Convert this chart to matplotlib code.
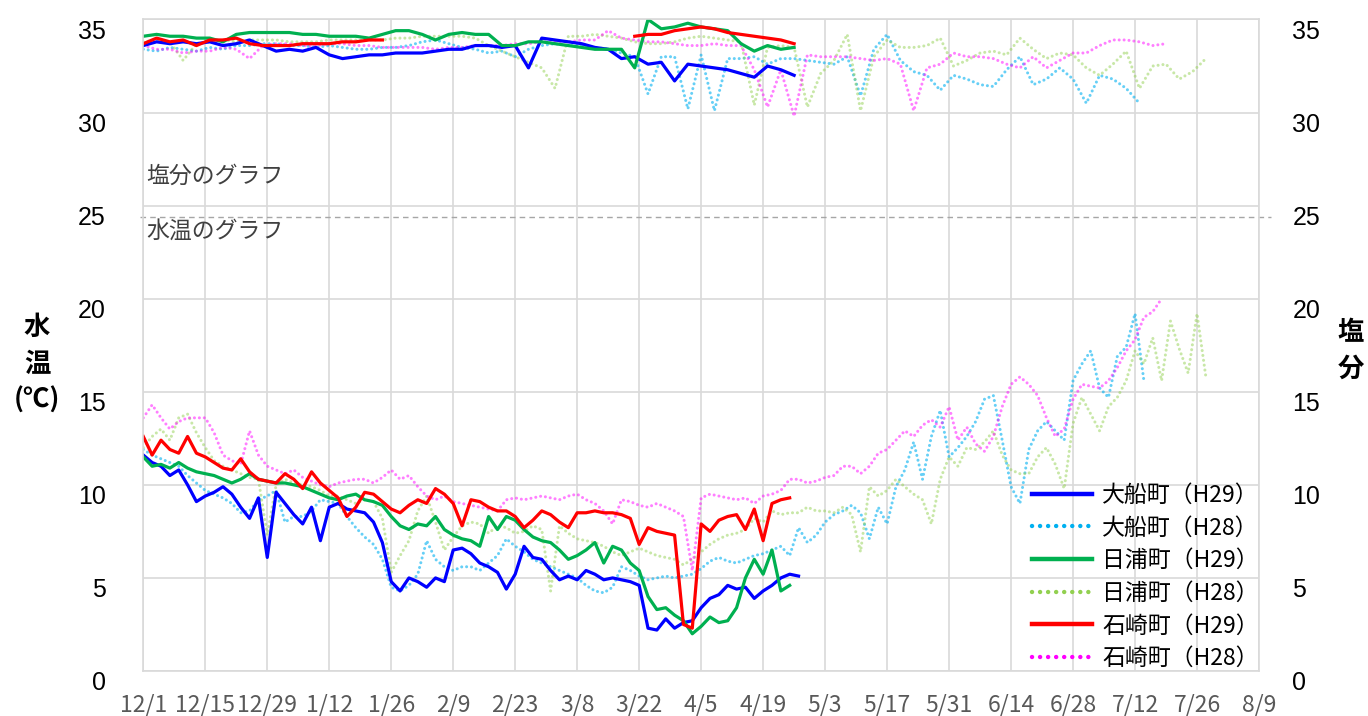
import numpy as np
import matplotlib
matplotlib.use("Agg")
import matplotlib.pyplot as plt
import matplotlib.transforms as mtrans
from matplotlib.lines import Line2D

plt.rcParams['font.family'] = ['Noto Sans CJK JP', 'DejaVu Sans']

# x axis: days from 12/1, tick every 14 days
tick_labels = ["12/1", "12/15", "12/29", "1/12", "1/26", "2/9", "2/23", "3/8", "3/22",
               "4/5", "4/19", "5/3", "5/17", "5/31", "6/14", "6/28", "7/12", "7/26", "8/9"]

# water temperature, one value every 2 days
temp_ofunato_h29 = [11.6, 11.2, 11.0, 10.5, 10.8, 10.0, 9.1, 9.4, 9.6, 9.9, 9.5, 8.8, 8.2, 9.3, 6.1,
                    9.6, 9.0, 8.4, 7.9, 8.8, 7.0, 8.8, 9.0, 8.7, 8.6, 8.5, 8.0, 6.9, 4.8, 4.3,
                    5.0, 4.8, 4.5, 5.0, 4.8, 6.5, 6.6, 6.3, 5.8, 5.6, 5.3, 4.4, 5.2, 6.7, 6.1,
                    6.0, 5.4, 4.9, 5.1, 4.9, 5.4, 5.2, 4.9, 5.0, 4.9, 4.8, 4.6, 2.3, 2.2, 2.8,
                    2.3, 2.6, 2.7, 3.4, 3.9, 4.1, 4.6, 4.4, 4.5, 3.9, 4.3, 4.6, 5.0, 5.2, 5.1]
temp_ofunato_h28 = [11.9, 11.6, 11.4, 11.2, 11.0, 10.5, 10.1, 9.7, 9.5, 9.3, 9.0, 8.5, 8.6, 9.2, 9.4,
                    9.7, 8.0, 8.3, 8.3, 8.6, 9.2, 9.1, 9.0, 8.3, 7.7, 7.2, 6.8, 6.0, 4.5, 4.3,
                    4.6, 5.2, 7.0, 6.0, 5.6, 5.4, 5.6, 5.6, 5.4, 5.8, 6.2, 7.1, 6.7, 6.4, 6.0,
                    5.8, 5.6, 5.4, 5.2, 5.0, 4.6, 4.3, 4.2, 4.5, 5.6, 5.4, 5.1, 4.9, 5.0, 5.1,
                    5.0, 5.1, 5.2, 5.5, 5.9, 6.1, 5.9, 5.8, 6.0, 6.2, 6.3, 6.5, 6.7, 6.2, 7.7,
                    6.9, 7.3, 8.0, 8.4, 8.6, 8.9, 8.5, 7.1, 8.8, 7.9, 9.9, 10.8, 12.3, 10.3, 12.6,
                    14.0, 11.5, 12.0, 12.6, 13.4, 14.6, 14.8, 12.4, 9.9, 9.0, 11.9, 12.9, 13.4, 12.9,
                    12.4, 15.6, 16.5, 17.2, 15.2, 14.7, 16.9, 17.4, 19.2, 15.6]
temp_hiura_h29 = [11.5, 11.0, 11.1, 10.9, 11.2, 10.9, 10.7, 10.6, 10.5, 10.3, 10.1, 10.3, 10.6, 10.3,
                  10.2, 10.1, 10.1, 10.0, 9.9, 9.7, 9.5, 9.3, 9.2, 9.4, 9.5, 9.2, 9.1, 8.9, 8.3,
                  7.8, 7.6, 7.9, 7.8, 8.3, 7.6, 7.3, 7.1, 7.0, 6.7, 8.3, 7.6, 8.3, 8.1, 7.6, 7.2,
                  7.0, 6.9, 6.5, 6.0, 6.2, 6.5, 6.9, 5.8, 6.7, 6.5, 5.8, 5.4, 4.0, 3.3, 3.4,
                  3.0, 2.7, 2.0, 2.4, 2.9, 2.6, 2.7, 3.4, 5.0, 6.0, 5.2, 6.5, 4.3, 4.6]
temp_hiura_h28 = [12.0, 12.6, 13.0, 12.4, 13.6, 13.8, 12.8, 12.0, 11.3, 11.0, 10.8, 10.6, 10.4, 10.3,
                  7.3, 10.0, 10.3, 10.1, 10.0, 9.9, 9.7, 9.4, 9.4, 9.2, 9.0, 9.2, 9.1, 8.2, 5.3,
                  6.2, 7.0, 8.6, 9.4, 8.0, 6.5, 7.2, 7.8, 8.0, 7.9, 7.4, 7.8, 7.7, 7.4, 7.5,
                  7.8, 7.6, 4.3, 7.8, 7.4, 7.1, 7.0, 6.9, 6.7, 6.4, 6.2, 6.4, 6.6, 6.4, 6.2,
                  6.1, 6.0, 5.7, 6.0, 6.4, 6.8, 7.1, 7.3, 7.4, 7.6, 8.2, 8.0, 8.6, 8.4, 8.5,
                  8.5, 8.8, 8.6, 8.6, 8.5, 8.8, 8.4, 6.4, 9.9, 9.4, 9.7, 10.3, 9.9, 9.5, 9.2,
                  7.9, 10.3, 11.5, 11.0, 12.0, 11.9, 12.3, 12.9, 11.6, 10.8, 10.6, 10.6, 11.5, 12.0,
                  11.1, 9.8, 13.3, 14.7, 13.8, 12.9, 14.2, 14.7, 15.6, 17.2, 16.5, 17.9, 15.6, 18.8,
                  17.3, 16.0, 19.2, 15.8]
temp_ishizaki_h29 = [12.6, 11.6, 12.4, 11.9, 11.7, 12.6, 11.7, 11.5, 11.2, 10.9, 10.8, 11.4, 10.7, 10.3,
                     10.2, 10.1, 10.6, 10.3, 9.8, 10.7, 10.1, 9.7, 9.3, 8.3, 8.8, 9.6, 9.5, 9.1, 8.7,
                     8.5, 8.9, 9.2, 9.0, 9.8, 9.5, 9.0, 7.8, 9.2, 9.1, 8.8, 8.6, 8.6, 8.3, 7.7,
                     8.1, 8.6, 8.4, 8.0, 7.7, 8.5, 8.5, 8.6, 8.5, 8.5, 8.4, 8.2, 6.8, 7.7, 7.5,
                     7.4, 7.3, 2.5, 2.3, 7.9, 7.5, 8.1, 8.3, 8.4, 7.6, 8.7, 7.0, 9.0, 9.2, 9.3]
temp_ishizaki_h28 = [13.6, 14.3, 13.6, 13.0, 13.4, 13.6, 13.6, 13.6, 12.8, 11.6, 11.3, 11.1, 12.9, 11.6,
                     11.0, 10.8, 10.6, 10.8, 10.4, 10.2, 10.0, 9.9, 10.1, 10.2, 10.3, 10.3, 10.1, 10.4,
                     10.8, 10.3, 10.5, 9.9, 9.4, 9.2, 9.4, 9.1, 9.0, 8.9, 8.8, 8.7, 8.6, 9.2, 9.3,
                     9.2, 9.3, 9.4, 9.3, 9.2, 9.4, 9.5, 9.2, 9.0, 8.6, 7.9, 9.2, 9.1, 8.9, 8.8,
                     9.0, 8.8, 8.6, 8.3, 5.4, 9.3, 9.5, 9.4, 9.3, 9.2, 9.3, 9.0, 9.4, 9.5, 9.7,
                     10.3, 10.3, 10.1, 10.2, 10.4, 10.5, 11.0, 11.0, 10.6, 11.0, 11.7, 11.9, 12.4, 12.9,
                     12.6, 13.2, 13.5, 13.1, 14.2, 12.4, 13.1, 12.2, 11.8, 12.6, 14.2, 15.4, 15.8, 15.4,
                     14.8, 13.6, 12.6, 13.0, 14.6, 15.4, 15.3, 15.2, 15.6, 16.3, 17.2, 17.8, 19.0, 19.3,
                     20.0]

# salinity, one value every 3 days (nan = no data)
nan = np.nan
sal_ofunato_h29 = [33.6, 33.8, 33.7, 33.8, 33.7, 33.8, 33.6, 33.7, 33.9, 33.6, 33.3, 33.4, 33.3, 33.5,
                   33.1, 32.9, 33.0, 33.1, 33.1, 33.2, 33.2, 33.2, 33.3, 33.4, 33.4, 33.6, 33.6, 33.5,
                   33.6, 32.4, 34.0, 33.9, 33.8, 33.7, 33.5, 33.4, 32.9, 33.0, 32.6, 32.7, 31.7, 32.6,
                   32.5, 32.4, 32.3, 32.1, 31.9, 32.5, 32.3, 32.0]
sal_ofunato_h28 = [33.4, 33.3, 33.5, 33.4, 33.3, 33.5, 33.4, 33.6, 33.6, 33.7, 33.7, 33.6, 33.6, 33.5,
                   33.6, 33.5, 33.4, 33.4, 33.5, 33.5, 33.6, 33.8, 33.9, 33.7, 33.5, 33.4, 33.2, 33.3,
                   33.0, 33.4, 33.6, 33.7, 33.6, 33.6, 33.5, 33.4, 33.2, 33.0, 31.0, 33.0, 33.0, 30.2,
                   33.1, 30.1, 32.9, 32.9, 33.0, 32.6, 32.9, 32.9, 32.8, 32.7, 32.6, 33.0, 30.9, 33.4,
                   34.2, 32.8, 32.2, 32.0, 31.2, 32.0, 31.8, 31.5, 31.4, 32.3, 33.0, 31.5, 31.8, 32.4,
                   31.8, 30.5, 32.0, 31.8, 31.3, 30.5]
sal_hiura_h29 = [34.1, 34.2, 34.1, 34.1, 34.0, 34.0, 33.8, 34.2, 34.3, 34.3, 34.3, 34.3, 34.2, 34.2,
                 34.1, 34.1, 34.1, 34.0, 34.2, 34.4, 34.4, 34.2, 33.9, 34.2, 34.3, 34.2, 34.2, 33.6,
                 33.6, 33.8, 33.8, 33.7, 33.6, 33.5, 33.4, 33.4, 33.4, 32.4, 35.0, 34.5, 34.6, 34.8,
                 34.6, 34.5, 34.4, 33.7, 33.3, 33.6, 33.4, 33.5]
sal_hiura_h28 = [33.8, 33.9, 33.8, 32.8, 33.7, 33.8, 33.9, 33.8, 33.9, 33.9, 33.9, 33.8, 33.8, 33.8,
                 33.9, 33.9, 33.9, 33.9, 33.9, 34.0, 34.0, 34.1, 34.1, 34.1, 34.1, 34.0, 33.6, 33.3,
                 33.0, 32.7, 32.4, 31.3, 34.1, 34.1, 34.2, 34.1, 34.0, 33.8, 33.7, 33.7, 33.8, 34.0,
                 34.1, 34.0, 33.9, 33.8, 30.4, 33.5, 33.6, 33.5, 30.3, 32.1, 32.8, 34.2, 30.1, 33.0,
                 33.9, 33.5, 33.5, 33.6, 34.0, 32.5, 32.8, 33.2, 33.3, 33.1, 34.0, 33.4, 32.9, 33.2,
                 33.1, 32.4, 32.0, 32.6, 33.3, 31.3, 32.5, 32.6, 31.8, 32.2, 32.9]
sal_ishizaki_h29 = [33.7, 34.0, 33.8, 33.9, 33.6, 33.9, 33.9, 34.0, 33.7, 33.6, 33.6, 33.6, 33.7, 33.7,
                    33.7, 33.8, 33.8, 33.9, 33.9, nan, nan, nan, nan, nan, nan, nan, nan, nan,
                    nan, nan, nan, nan, nan, nan, nan, nan, nan, 34.1, 34.2, 34.2, 34.4, 34.5,
                    34.6, 34.5, 34.3, 34.2, 34.1, 34.0, 33.9, 33.7]
sal_ishizaki_h28 = [33.6, 33.4, 33.4, 33.2, 33.3, 33.3, 33.5, 33.4, 32.9, 33.6, 33.7, 33.7, 33.6, 33.6,
                    33.7, 33.7, 33.6, 33.6, 33.5, 33.5, 33.5, 33.5, 33.4, 33.5, 33.5, 33.6, 33.6, 33.6,
                    33.7, 33.7, 33.8, 33.8, 33.8, 33.9, 33.9, 34.4, 34.0, 33.9, 33.8, 33.8, 33.7, 33.6,
                    33.6, 33.7, 33.6, 33.6, 32.3, 30.3, 32.3, 29.8, 33.1, 33.0, 33.0, 33.0, 32.9, 32.8,
                    32.9, 32.6, 30.1, 32.4, 32.6, 33.2, 33.0, 33.0, 32.9, 32.6, 32.4, 33.0, 32.4, 32.8,
                    33.2, 33.2, 33.6, 33.9, 33.9, 33.8, 33.6, 33.7]

labels = ["大船町（H29）", "大船町（H28）", "日浦町（H29）", "日浦町（H28）", "石崎町（H29）", "石崎町（H28）"]
colors = ["#0000ff", "#00b0f0", "#00b050", "#92d050", "#ff0000", "#ff00ff"]

fig = plt.figure(figsize=(13.68, 7.16), dpi=100)
ax = fig.add_axes([0.10475, 0.06285, 0.81557, 0.90992])

dot = (0, (0.01, 1.6))
# H28 dotted first
h28 = [(temp_ofunato_h28, sal_ofunato_h28, colors[1], 0.6),
       (temp_hiura_h28, sal_hiura_h28, colors[3], 0.5),
       (temp_ishizaki_h28, sal_ishizaki_h28, colors[5], 0.5)]
for t, s, c, a in h28:
    ax.plot(np.arange(len(t)) * 2, t, color=c, alpha=a, lw=2.2, ls=dot, dash_capstyle='round')
    ax.plot(np.arange(len(s)) * 3, s, color=c, alpha=a, lw=2.2, ls=dot, dash_capstyle='round')

h29 = [(temp_ofunato_h29, sal_ofunato_h29, colors[0]),
       (temp_hiura_h29, sal_hiura_h29, colors[2]),
       (temp_ishizaki_h29, sal_ishizaki_h29, colors[4])]
for t, s, c in h29:
    ax.plot(np.arange(len(t)) * 2, t, color=c, lw=2.3)
    ax.plot(np.arange(len(s)) * 3, s, color=c, lw=2.3)

ax.set_xlim(0, 252)
ax.set_ylim(0, 35)
ax.set_xticks(np.arange(0, 253, 14))
ax.set_xticklabels(tick_labels)
ax.set_yticks(np.arange(0, 36, 5))
ax.grid(True, color="#d9d9d9", lw=1.2)
ax.set_axisbelow(True)
for sp in ax.spines.values():
    sp.set_color("#d9d9d9")
    sp.set_linewidth(1.2)
ax.tick_params(axis='both', length=0)
ax.tick_params(axis='x', pad=16, labelsize=16.5, labelcolor="#595959")
ax.tick_params(axis='y', pad=27, labelsize=18, labelcolor="#000000")

ax2 = ax.twinx()
ax2.set_ylim(0, 35)
ax2.set_yticks(np.arange(0, 36, 5))
for sp in ax2.spines.values():
    sp.set_visible(False)
ax2.tick_params(axis='y', length=0, pad=24, labelsize=18, labelcolor="#000000")

for lab in ax.get_yticklabels() + ax2.get_yticklabels():
    lab.set_fontfamily(['Liberation Sans', 'DejaVu Sans'])
    lab.set_transform(lab.get_transform() + mtrans.ScaledTranslation(0, -0.10, fig.dpi_scale_trans))

# divider between the salinity and temperature graphs
ax.add_line(Line2D([-0.003, 1.011], [24.4 / 35, 24.4 / 35], transform=ax.transAxes,
                   color="#a6a6a6", lw=1, ls=(0, (4, 3)), clip_on=False))
blend = mtrans.blended_transform_factory(ax.transAxes, ax.transData)
ax.text(0.003, 26.6, "塩分のグラフ", fontsize=16.5, color="#404040", va='center', transform=blend)
ax.text(0.003, 23.6, "水温のグラフ", fontsize=16.5, color="#404040", va='center', transform=blend)

fig.text(37 / 1368, 1 - 364 / 716, "水\n温\n(℃)", fontsize=19, ha='center', va='center',
         linespacing=1.45, fontweight='bold')
fig.text(1351 / 1368, 1 - 351 / 716, "塩\n分", fontsize=19, ha='center', va='center',
         linespacing=1.45, fontweight='bold')

handles = []
for i, c in enumerate(colors):
    if i % 2 == 0:
        handles.append(Line2D([], [], color=c, lw=3.2))
    else:
        handles.append(Line2D([], [], color=c, lw=3.2, ls=(0, (0.01, 1.8)), dash_capstyle='round'))
ax.legend(handles, labels, loc='lower right', bbox_to_anchor=(1259 / 1368, 1 - 670 / 716),
          bbox_transform=fig.transFigure, frameon=False, fontsize=16.5, handlelength=2.6,
          handletextpad=0.45, labelspacing=0.42, borderpad=0, borderaxespad=0)

fig.savefig("out.png", dpi=100)
